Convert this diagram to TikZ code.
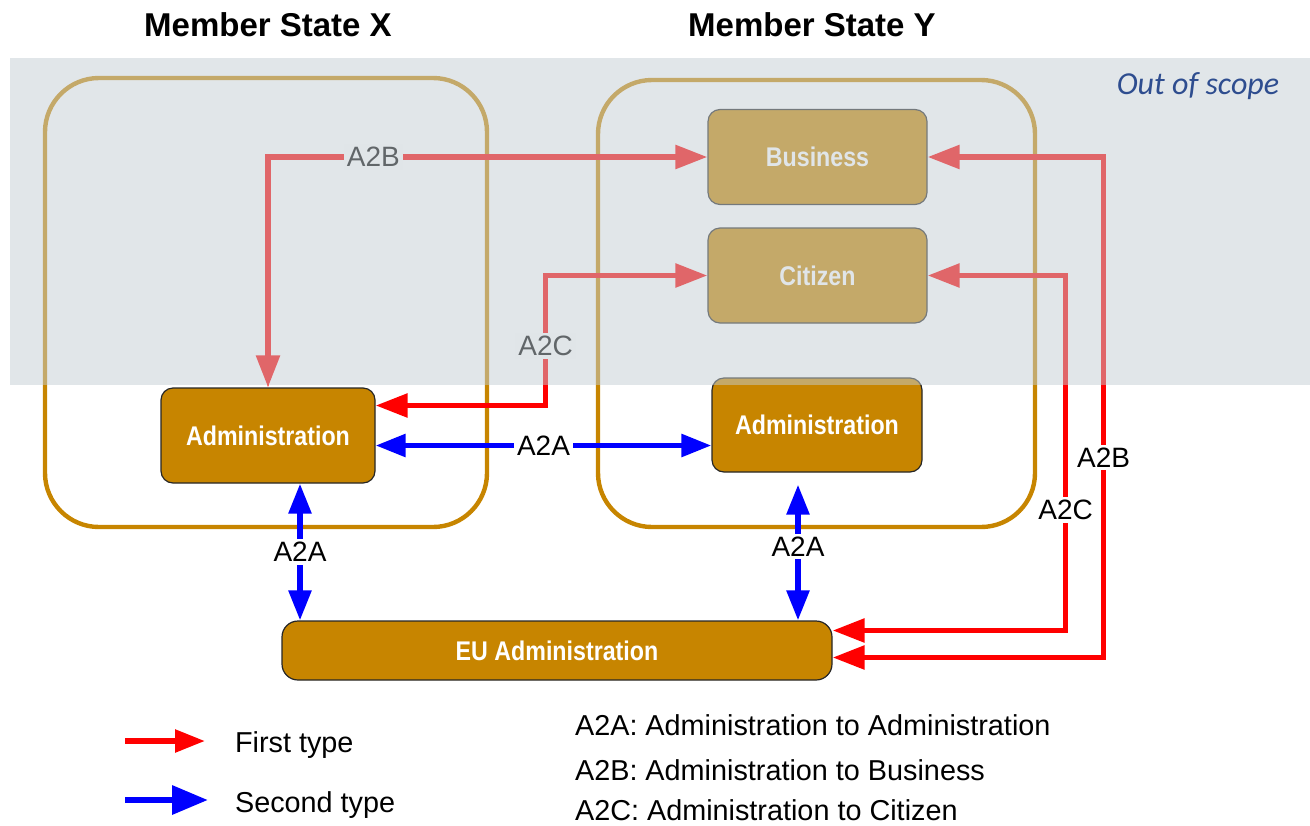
\documentclass[tikz,border=0pt]{standalone}
\usepackage{fontspec}
\setmainfont{Liberation Sans}
\newfontfamily\boxfont[FakeStretch=0.86]{Liberation Sans}
\newfontfamily\scopefont{Carlito}
\usetikzlibrary{arrows.meta}

\definecolor{adminorange}{RGB}{199,133,0}
\definecolor{veilgray}{RGB}{195,205,211}
\definecolor{scopeblue}{RGB}{46,77,143}

\tikzset{
    statebox/.style={draw=adminorange, line width=2.2pt, rounded corners=27pt},
    adminbox/.style={draw=black!85, fill=adminorange, line width=0.6pt,
        rounded corners=6pt, text=white, align=center,
        font=\boxfont\bfseries\fontsize{13.5}{16}\selectfont},
    firsttype/.style={draw=red, line width=2.8pt, {Triangle[length=16pt,width=11.5pt]}-{Triangle[length=16pt,width=11.5pt]}},
    secondtype/.style={draw=blue, line width=2.8pt, {Triangle[length=15pt,width=11pt]}-{Triangle[length=15pt,width=11pt]}},
    flowlabel/.style={fill=white, inner sep=1.5pt, font=\fontsize{14}{16}\selectfont},
    legendtext/.style={anchor=west, font=\fontsize{14.4}{17}\selectfont}
}

\begin{document}
\begin{tikzpicture}[x=0.5pt, y=-0.5pt]
    \useasboundingbox (0,0) rectangle (1310,825);

    % member states
    % -------------
    \node[font=\bfseries\fontsize{16.5}{20}\selectfont] (titlex) at (268,25) {Member State X};
    \node[font=\bfseries\fontsize{16.5}{20}\selectfont] (titley) at (812,25) {Member State Y};
    \draw[statebox] (45,78) rectangle (487,527);
    \draw[statebox] (598,80) rectangle (1035,527);

    % boxes
    \node[adminbox, minimum width=107pt, minimum height=47.5pt] (ladm) at (268,435.5) {Administration};
    \node[adminbox, minimum width=105pt, minimum height=47pt] (radm) at (817,425) {Administration};
    \node[adminbox, minimum width=109.5pt, minimum height=47.5pt] (bus) at (817.5,157) {Business};
    \node[adminbox, minimum width=109.5pt, minimum height=47.5pt] (cit) at (817.5,275.5) {Citizen};
    \node[adminbox, minimum width=275pt, minimum height=29.5pt, rounded corners=8pt] (eu) at (557,650.5) {EU Administration};

    % first type (A2B, A2C)
    \draw[firsttype] (ladm.north) |- node[pos=0.62, flowlabel] {A2B} (bus.west);
    \draw[firsttype] ([yshift=15pt]ladm.east) -- ++(170,0) |- node[pos=0.23, flowlabel] {A2C} (cit.west);
    \draw[firsttype] (cit.east) -- ++(138,0) |- node[pos=0.33, flowlabel] {A2C} ([yshift=10pt]eu.east);
    \draw[firsttype] (bus.east) -- ++(176,0) |- node[pos=0.3, flowlabel] {A2B} ([yshift=-3.5pt]eu.east);

    % second type (A2A)
    \draw[secondtype] ([yshift=-5pt]ladm.east) -- node[flowlabel] {A2A} ([yshift=-5pt]ladm.east -| radm.west);
    \draw[secondtype] ([xshift=16pt]ladm.south) -- node[flowlabel] {A2A} ([xshift=16pt]ladm.south |- eu.north);
    \draw[secondtype, shorten <=6pt] ([xshift=-9.5pt]radm.south) -- node[flowlabel] {A2A} ([xshift=-9.5pt]radm.south |- eu.north);

    % out of scope veil
    \fill[veilgray, opacity=0.5] (10,58) rectangle (1310,385);
    \node[text=scopeblue, font=\scopefont\itshape\fontsize{16}{19}\selectfont] (scope) at (1198,86) {Out of scope};

    % legend
    \coordinate (firsta) at (125,741);
    \coordinate (firstb) at (205,741);
    \coordinate (seconda) at (125,800);
    \coordinate (secondb) at (208,800);
    \draw[draw=red, line width=2.8pt, -{Triangle[length=15pt,width=11pt]}] (firsta) -- (firstb);
    \draw[draw=blue, line width=3.2pt, -{Triangle[length=18pt,width=14pt]}] (seconda) -- (secondb);
    \node[legendtext] (firstlbl) at (228,745) {First type};
    \node[legendtext] (secondlbl) at (228,805) {Second type};

    \node[legendtext] (a2a) at (568,725) {A2A: Administration to Administration};
    \node[legendtext] (a2b) at (568,770) {A2B: Administration to Business};
    \node[legendtext] (a2c) at (568,810) {A2C: Administration to Citizen};
\end{tikzpicture}
\end{document}
